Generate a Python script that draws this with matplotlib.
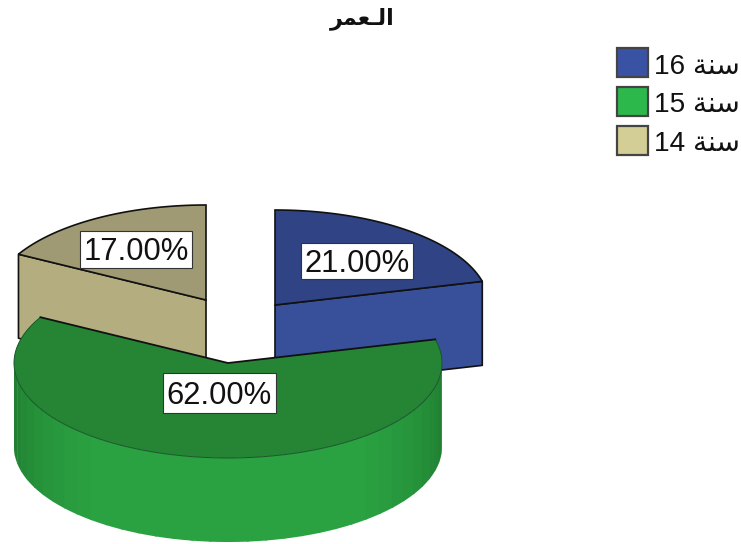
import numpy as np
import matplotlib
matplotlib.use("Agg")
import matplotlib.pyplot as plt
from matplotlib.patches import Polygon, Rectangle

title = "الـعمر"
categories = ["سنة 16", "سنة 15", "سنة 14"]
values = [21.0, 62.0, 17.0]
value_labels = ["21.00%", "62.00%", "17.00%"]

# category colours: top face, cut face
top_colors = ["#2F4385", "#258535", "#9F9A73"]
cut_colors = ["#384F9A", "#258535", "#B3AD80"]
legend_colors = ["#3A52A4", "#2DB84B", "#D3CE96"]
centers = [(275, 305), (228, 363), (206, 300)]
label_boxes = [(301, 243, 112, 36), (163, 373, 113, 40), (80, 231, 112, 37)]
legend_y = [62.5, 101, 140]

RX, RY, DEPTH = 214, 95, 84
FONT = ["Liberation Sans", "DejaVu Sans"]

FORMS = {"ا": "\uFE8D\uFE8E", "ر": "\uFEAD\uFEAE",
         "ل": "\uFEDD\uFEDE\uFEDF\uFEE0", "ع": "\uFEC9\uFECA\uFECB\uFECC",
         "م": "\uFEE1\uFEE2\uFEE3\uFEE4", "س": "\uFEB1\uFEB2\uFEB3\uFEB4",
         "ن": "\uFEE5\uFEE6\uFEE7\uFEE8", "ة": "\uFE93\uFE94"}


def shape_word(word):
    out = []
    for i, ch in enumerate(word):
        if ch not in FORMS:
            out.append(ch)
            continue
        prev = word[i - 1] if i else ""
        nxt = word[i + 1] if i + 1 < len(word) else ""
        joins_prev = prev == "ـ" or (prev in FORMS and len(FORMS[prev]) == 4)
        joins_next = len(FORMS[ch]) == 4 and (nxt == "ـ" or nxt in FORMS)
        f = FORMS[ch]
        if len(f) == 2:
            out.append(f[1] if joins_prev else f[0])
        else:
            out.append(f[3] if joins_prev and joins_next else f[1] if joins_prev
                       else f[2] if joins_next else f[0])
    return "".join(reversed(out))


def rtl(text):
    parts = [shape_word(w) if any(c in FORMS for c in w) else w for w in text.split(" ")]
    return " ".join(reversed(parts))


fig = plt.figure(figsize=(7.41, 5.44), dpi=100)
ax = fig.add_axes([0, 0, 1, 1])
ax.set_xlim(0, 741)
ax.set_ylim(544, 0)
ax.axis("off")

fracs = np.array(values) / sum(values) * 360
ends = 90 - np.cumsum(fracs)
starts = ends + fracs


def rim(c, a0, a1, n=160):
    t = np.radians(np.linspace(a0, a1, n))
    return np.column_stack([c[0] + RX * np.cos(t), c[1] - RY * np.sin(t)])


def draw_back(i, cut_angle):
    c = centers[i]
    p = rim(c, cut_angle, cut_angle, 1)[0]
    ax.add_patch(Polygon([c, p, (p[0], p[1] + DEPTH), (c[0], c[1] + DEPTH)], closed=True,
                         fc=cut_colors[i], ec="#111111", lw=1.2, joinstyle="round", zorder=1))
    r = rim(c, starts[i], ends[i])
    ax.add_patch(Polygon(np.vstack([[c], r]), closed=True, fc=top_colors[i],
                         ec="#111111", lw=1.2, zorder=2))


draw_back(0, ends[0])    # blue: its clockwise cut faces the viewer
draw_back(2, starts[2])  # tan: its first cut faces the viewer

# green wall, drawn as shaded strips
c = centers[1]
edges = np.linspace(180, 360, 37)
dark = np.array(matplotlib.colors.to_rgb("#1F7A2F"))
bright = np.array(matplotlib.colors.to_rgb("#2AA241"))
for a0, a1 in zip(edges[:-1], edges[1:]):
    mid = (a0 + a1) / 2
    w = np.clip(np.sin(np.radians(mid - 180)) * 1.25, 0, 1)
    col = dark + (bright - dark) * w
    r = rim(c, a0, a1 + 0.6, 12)
    pts = np.vstack([r, (r + [0, DEPTH])[::-1]])
    ax.add_patch(Polygon(pts, closed=True, fc=col, ec="none", zorder=3))

# green top face
r = rim(c, starts[1], ends[1], 300)
ax.add_patch(Polygon(np.vstack([[c], r]), closed=True, fc=top_colors[1], ec="none", zorder=4))
ax.plot(r[:, 0], r[:, 1], color="#17562A", lw=0.7, zorder=5)
cut_edge = np.vstack([r[0], c, r[-1]])
ax.plot(cut_edge[:, 0], cut_edge[:, 1], color="#111111", lw=1.3, zorder=5)

# value labels
for (x, y, w, h), s in zip(label_boxes, value_labels):
    ax.add_patch(Rectangle((x, y), w, h, fc="white", ec="#333333", lw=0.8, zorder=7))
    ax.text(x + w / 2, y + h / 2 + 3, s, family=FONT, fontsize=22.3, color="#111111",
            ha="center", va="center", zorder=8)

# title
ax.text(362, 19, rtl(title), family=FONT, fontsize=16, fontweight="bold",
        color="#111111", ha="center", va="center")

# legend
for y, col, lab in zip(legend_y, legend_colors, categories):
    ax.add_patch(Rectangle((616.5, y - 14.5), 31, 29, fc=col, ec="#444444", lw=1.6))
    ax.text(654, y + 4, rtl(lab), family=FONT, fontsize=20.2, color="#111111",
            ha="left", va="center")

fig.savefig("out.png", dpi=100, facecolor="white")
